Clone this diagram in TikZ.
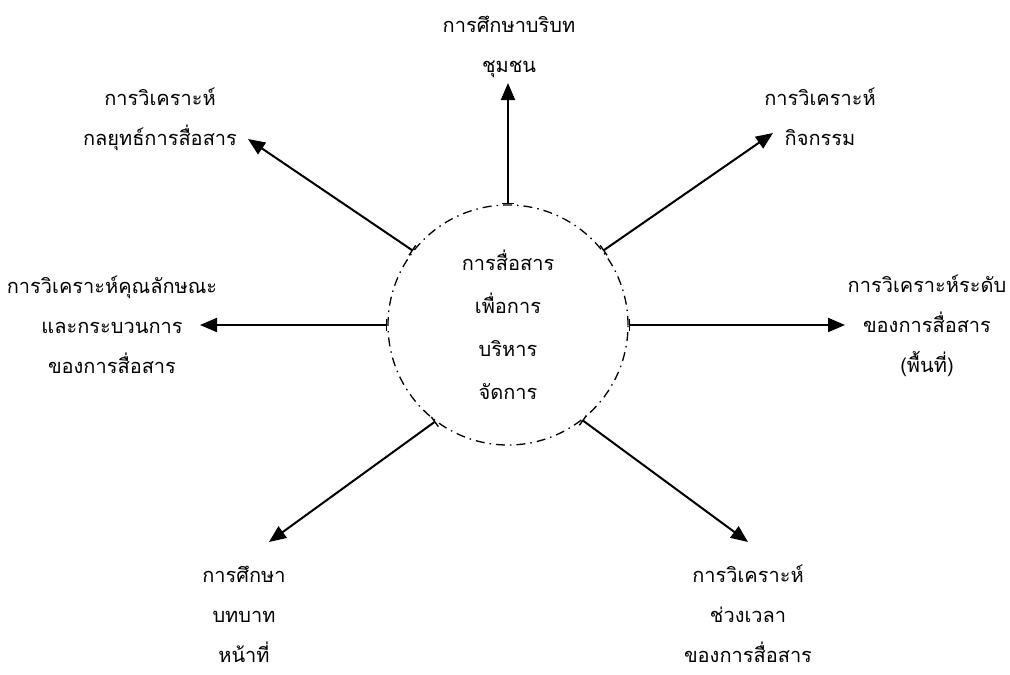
\documentclass[tikz,border=0pt]{standalone}
\usepackage{fontspec}
\newfontfamily\thaifont[Script=Thai]{Loma}
\usetikzlibrary{arrows.meta}
\tikzset{
  hub/.style={circle, draw=black, line width=1.3pt, dash pattern=on 9pt off 5pt on 1.5pt off 5pt, minimum size=240pt, inner sep=0pt, align=center, font=\thaifont\fontsize{20}{43}\selectfont},
  topic/.style={align=center, inner sep=0pt, font=\thaifont\fontsize{20}{40}\selectfont},
  spoke/.style={{Bar[width=12pt,line width=1.4pt]}-{Triangle[length=17pt,width=14pt]}, line width=2pt},
}

\begin{document}
\begin{tikzpicture}[x=1pt, y=-1pt]
\useasboundingbox (0,0) rectangle (1010,675);
% centre
\node[hub] (hub) at (508,325) {การสื่อสาร\\เพื่อการ\\บริหาร\\จัดการ};
% topics round the hub
\node[topic] (context) at (509,47) {การศึกษาบริบท\\ชุมชน};
\node[topic] (strategy) at (160,119) {การวิเคราะห์\\กลยุทธ์การสื่อสาร};
\node[topic] (activity) at (820,117) {การวิเคราะห์\\กิจกรรม};
\node[topic] (process) at (112,325) {การวิเคราะห์คุณลักษณะ\\และกระบวนการ\\ของการสื่อสาร};
\node[topic] (level) at (927,326) {การวิเคราะห์ระดับ\\ของการสื่อสาร\\(พื้นที่)};
\node[topic] (role) at (244,614) {การศึกษา\\บทบาท\\หน้าที่};
\node[topic] (period) at (748,614) {การวิเคราะห์\\ช่วงเวลา\\ของการสื่อสาร};
% arrow ends
\coordinate (tipcontext) at (508,83);
\coordinate (tipstrategy) at (248,139);
\coordinate (tipactivity) at (773,133);
\coordinate (tipprocess) at (200,325);
\coordinate (tiplevel) at (845,325);
\coordinate (tiprole) at (269,542);
\coordinate (tipperiod) at (748,542);
\draw[spoke] (hub.90) -- (tipcontext);
\draw[spoke] (hub.142) -- (tipstrategy);
\draw[spoke] (hub.38) -- (tipactivity);
\draw[spoke] (hub.180) -- (tipprocess);
\draw[spoke] (hub.0) -- (tiplevel);
\draw[spoke] (hub.233) -- (tiprole);
\draw[spoke] (hub.308) -- (tipperiod);
\end{tikzpicture}
\end{document}
